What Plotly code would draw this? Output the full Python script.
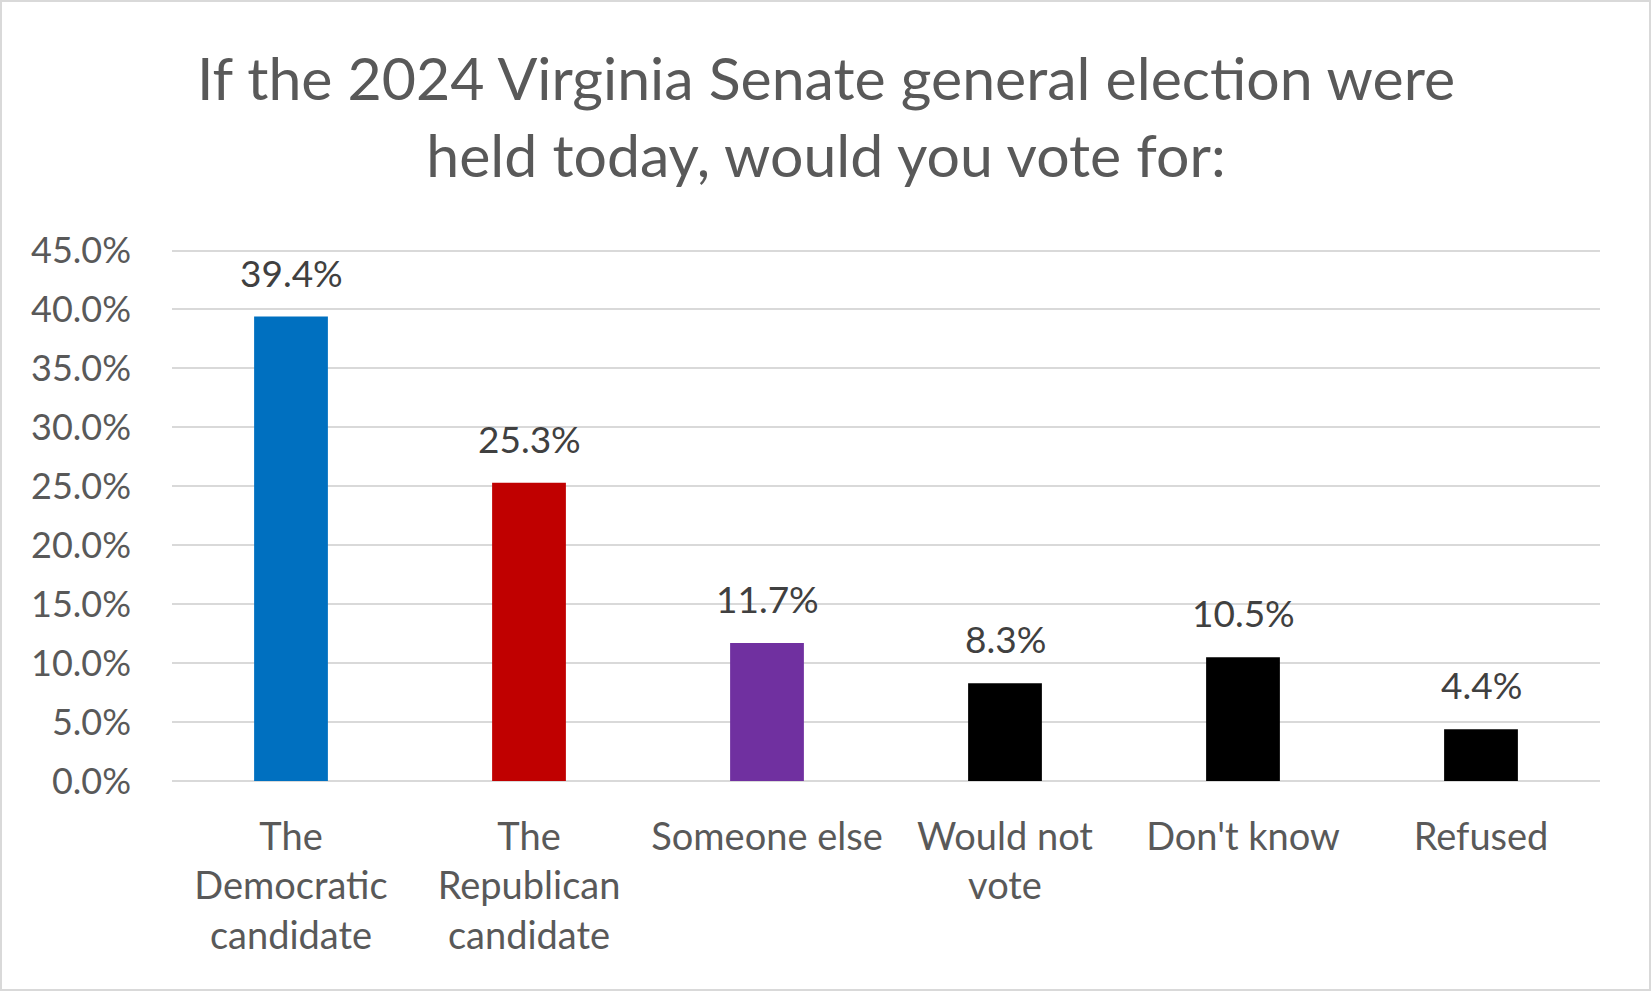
import plotly.graph_objects as go

# DANE

kategorie = [
    "The<br>Democratic<br>candidate",
    "The<br>Republican<br>candidate",
    "Someone else",
    "Would not<br>vote",
    "Don't know",
    "Refused",
]
wartosci = [39.4, 25.3, 11.7, 8.3, 10.5, 4.4]
kolory = ["#0070C0", "#C00000", "#7030A0", "#000000", "#000000", "#000000"]
y_ticks = [0, 5, 10, 15, 20, 25, 30, 35, 40, 45]

tytul = "If the 2024 Virginia Senate general election were<br>held today, would you vote for:"

FONT = "Lato"

# WYKRES

fig = go.Figure()

fig.add_trace(
    go.Bar(
        x=kategorie,
        y=wartosci,
        marker=dict(color=kolory, line=dict(width=0)),
        width=0.31,
        showlegend=False,
        hoverinfo="x+y",
    )
)

# etykiety nad słupkami
for k, v in zip(kategorie, wartosci):
    fig.add_annotation(
        x=k,
        y=v,
        text=f"{v:.1f}%",
        showarrow=False,
        yanchor="bottom",
        yshift=20,
        font=dict(family=FONT, size=37, color="#404040"),
    )

# ramka wykresu
W, H = 1652, 992
L, R, T, B = 172, 52, 247, 211
pw, ph = W - L - R, H - T - B
fig.add_shape(
    type="rect",
    xref="paper",
    yref="paper",
    x0=(1 - L) / pw,
    x1=(W - 2 - L) / pw,
    y0=(H - B - (H - 2)) / ph,
    y1=(H - B - 1) / ph,
    line=dict(color="#D9D9D9", width=2),
    layer="below",
)

fig.update_layout(
    width=W,
    height=H,
    margin=dict(l=L, r=R, t=T, b=B),
    paper_bgcolor="white",
    plot_bgcolor="white",
    font=dict(family=FONT, color="#595959"),
    title=dict(
        text=tytul,
        x=0.5,
        xanchor="center",
        y=1 - 100 / H,
        yanchor="middle",
        font=dict(family=FONT, size=59, color="#595959"),
    ),
    bargap=0.69,
)

fig.update_xaxes(
    showgrid=False,
    showline=False,
    ticks="",
    tickfont=dict(family=FONT, size=38, color="#595959"),
    ticklabelstandoff=30,
)

fig.update_yaxes(
    range=[0, 45.3],
    tickvals=y_ticks,
    ticktext=[f"{t:.1f}%" for t in y_ticks],
    showgrid=True,
    gridcolor="#D9D9D9",
    gridwidth=2,
    zeroline=True,
    zerolinecolor="#D9D9D9",
    zerolinewidth=2,
    showline=False,
    ticks="",
    tickfont=dict(family=FONT, size=36, color="#595959"),
    ticklabelstandoff=40,
)

fig.write_html(
    "out.html",
    config={"displayModeBar": False},
    post_script="document.body.style.margin='0';",
)
